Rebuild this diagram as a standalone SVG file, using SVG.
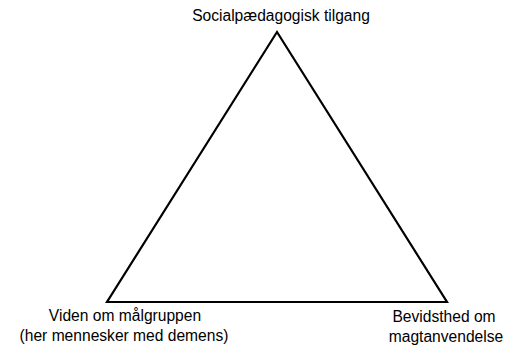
<svg xmlns="http://www.w3.org/2000/svg" width="506" height="347" viewBox="0 0 506 347">
<style>
text{font-family:"Liberation Sans",Arial,sans-serif;font-size:15.6px;fill:#000;text-anchor:middle}
.edge{fill:none;stroke:#000;stroke-width:2.2;stroke-linejoin:miter}
</style>
<rect width="506" height="347" fill="#fff"/>
<g id="connectors">
<polygon class="edge" points="277,32 107,302 447,302"/>
</g>
<g id="node-top"><text x="281" y="21">Socialpædagogisk tilgang</text></g>
<g id="node-left"><text x="125" y="321">Viden om målgruppen</text><text x="124" y="341">(her mennesker med demens)</text></g>
<g id="node-right"><text x="444" y="322">Bevidsthed om</text><text x="446" y="342">magtanvendelse</text></g>
</svg>
